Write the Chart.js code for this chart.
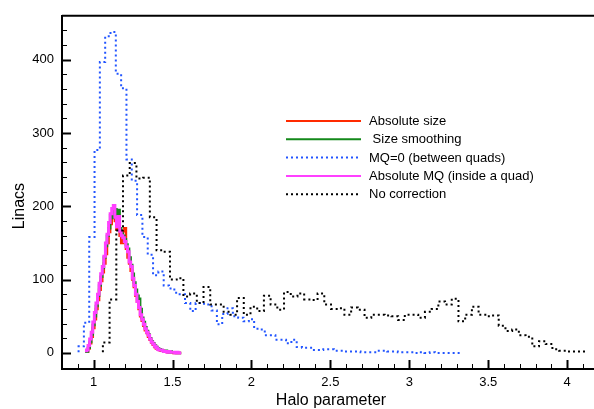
<!DOCTYPE html>
<html>
<head>
<meta charset="utf-8">
<script src="https://cdn.jsdelivr.net/npm/chart.js@4.4.0/dist/chart.umd.min.js"></script>
<style>
  html, body { margin: 0; padding: 0; background: #fff; }
</style>
</head>
<body>
<canvas id="myChart" width="594" height="409"></canvas>
<script>
// histogram definitions (bin start, bin width)
const narrowStart = 0.955, narrowWidth = 0.01;
const blueStart = 0.905, blueWidth = 0.0337;
const blackStart = 1.059, blackWidth = 0.0425;

const seriesNames = ['Absolute size', ' Size smoothing', 'MQ=0 (between quads)', 'Absolute MQ (inside a quad)', 'No correction'];

const absoluteSize = [0, 2, 6, 13, 22, 34, 46, 60, 72, 86, 98, 110, 122, 135, 150, 165, 176, 190, 194, 180,
  168, 175, 160, 150, 166, 170, 142, 130, 122, 112, 100, 90, 78, 70, 60, 50, 44, 37, 31, 27,
  22, 18, 14, 11, 8, 6, 5, 4, 3, 3, 2, 2, 1, 1, 1, 1, 0, 1, 0, 0];
const sizeSmoothing = [0, 2, 7, 15, 25, 38, 50, 64, 78, 92, 104, 116, 130, 146, 160, 170, 188, 184, 192, 196,
  178, 195, 170, 163, 160, 155, 148, 142, 130, 120, 108, 96, 86, 78, 74, 60, 48, 42, 35, 30,
  25, 20, 16, 13, 10, 8, 6, 5, 4, 3, 2, 3, 2, 1, 2, 1, 1, 1, 0, 0];
const mqZero = [1, 9, 41, 158, 277, 397, 432, 438, 381, 361, 264, 235, 188, 158, 134, 106, 111, 92, 88, 82,
  80, 68, 57, 68, 67, 66, 58, 39, 53, 61, 50, 48, 43, 46, 33, 32, 24, 24, 18, 18,
  13, 18, 8, 7, 7, 4, 4, 5, 5, 3, 3, 2, 2, 2, 1, 1, 1, 3, 3, 2,
  2, 1, 1, 1, 0, 1, 0, 1, 0, 0, 0, 0];
const absoluteMQ = [1, 4, 10, 19, 28, 42, 55, 68, 80, 95, 108, 118, 132, 150, 162, 178, 190, 197, 201, 185,
  172, 186, 166, 160, 157, 152, 145, 138, 124, 118, 102, 92, 80, 70, 62, 52, 46, 39, 33, 28,
  24, 19, 15, 12, 9, 7, 5, 4, 4, 3, 2, 2, 1, 2, 1, 1, 1, 0, 1, 0];
const noCorrection = [1, 14, 73, 167, 242, 259, 238, 239, 185, 140, 138, 100, 102, 77, 81, 68, 90, 66, 66, 56,
  52, 75, 52, 63, 57, 78, 66, 59, 83, 77, 81, 73, 72, 81, 66, 60, 61, 52, 62, 59,
  48, 52, 52, 51, 50, 45, 52, 52, 48, 56, 60, 70, 66, 74, 43, 52, 63, 52, 50, 51,
  37, 30, 32, 24, 22, 9, 16, 12, 5, 3, 2, 2];

const xTickValues = [1, 1.5, 2, 2.5, 3, 3.5, 4];
const yTickValues = [0, 100, 200, 300, 400];

// turn bin contents into step points (left edges + closing edge)
function histPoints(start, width, values) {
  const pts = values.map((v, i) => ({ x: start + i * width, y: v }));
  pts.push({ x: start + values.length * width, y: values[values.length - 1] });
  return pts;
}

function histDataset(label, start, width, values, color, dash, lw, order) {
  return {
    label: label,
    data: histPoints(start, width, values),
    borderColor: color,
    borderWidth: lw,
    borderDash: dash,
    stepped: 'after',
    pointRadius: 0,
    fill: false,
    order: order, // lower order is painted on top
  };
}

const axisDecor = {
  id: 'axisDecor',
  afterDatasetsDraw(chart) {
    const ctx = chart.ctx;
    const area = chart.chartArea;
    const xs = chart.scales.x, ys = chart.scales.y;
    ctx.save();
    ctx.strokeStyle = '#000';
    // top frame line
    ctx.lineWidth = 2;
    ctx.beginPath();
    ctx.moveTo(area.left, area.top);
    ctx.lineTo(area.right, area.top);
    ctx.stroke();
    // inward x ticks
    for (let k = 8; k <= 41; k++) {
      const v = k / 10;
      const px = Math.round(xs.getPixelForValue(v)) + 0.5;
      const major = k % 5 === 0;
      ctx.lineWidth = major ? 2 : 1;
      ctx.beginPath();
      ctx.moveTo(px, area.bottom);
      ctx.lineTo(px, area.bottom - (major ? 9 : 5));
      ctx.stroke();
    }
    // inward y ticks
    for (let v = -20; v <= 440; v += 20) {
      const py = Math.round(ys.getPixelForValue(v)) + 0.5;
      const major = v % 100 === 0;
      ctx.lineWidth = major ? 2 : 1;
      ctx.beginPath();
      ctx.moveTo(area.left, py);
      ctx.lineTo(area.left + (major ? 9 : 5), py);
      ctx.stroke();
    }
    // axis titles
    ctx.fillStyle = '#000';
    ctx.font = '16px "Liberation Sans", Arial, sans-serif';
    ctx.textAlign = 'center';
    ctx.textBaseline = 'middle';
    ctx.fillText('Halo parameter', 331, 401);
    ctx.translate(20, 206);
    ctx.rotate(-Math.PI / 2);
    ctx.fillText('Linacs', 0, 0);
    ctx.restore();

    // legend
    ctx.save();
    ctx.font = '13px "Liberation Sans", Arial, sans-serif';
    ctx.textAlign = 'left';
    ctx.textBaseline = 'middle';
    chart.data.datasets.forEach((ds, i) => {
      const y = 121 + i * 18.3;
      ctx.strokeStyle = ds.borderColor;
      ctx.lineWidth = 2;
      ctx.setLineDash(ds.borderDash || []);
      ctx.beginPath();
      ctx.moveTo(286, y);
      ctx.lineTo(361, y);
      ctx.stroke();
      ctx.setLineDash([]);
      ctx.fillStyle = '#000';
      ctx.fillText(ds.label, 369, y + 0.5);
    });
    ctx.restore();
  }
};

const ctx = document.getElementById('myChart').getContext('2d');
const myChart = new Chart(ctx, {
  type: 'line',
  data: {
    datasets: [
      histDataset(seriesNames[0], narrowStart, narrowWidth, absoluteSize, '#ff2a00', [], 2.5, 5),
      histDataset(seriesNames[1], narrowStart, narrowWidth, sizeSmoothing, '#13891a', [], 2.5, 4),
      histDataset(seriesNames[2], blueStart, blueWidth, mqZero, '#2255ff', [2, 3], 2, 3),
      histDataset(seriesNames[3], narrowStart, narrowWidth, absoluteMQ, '#ff40ff', [], 3, 2),
      histDataset(seriesNames[4], blackStart, blackWidth, noCorrection, '#000000', [2, 3], 2, 1),
    ],
  },
  options: {
    responsive: false,
    animation: false,
    layout: { padding: { top: 11, left: 0, right: 0, bottom: 0 } },
    plugins: {
      legend: { display: false },
      tooltip: { enabled: false },
    },
    scales: {
      x: {
        type: 'linear',
        min: 0.8,
        max: 4.17,
        grid: { display: false, drawTicks: false },
        border: { display: true, color: '#000', width: 2 },
        afterBuildTicks: (s) => { s.ticks = xTickValues.map((v) => ({ value: v })); },
        afterFit: (s) => { s.height = 40; },
        ticks: {
          padding: 6,
          color: '#000',
          font: { family: '"Liberation Sans", Arial, sans-serif', size: 13 },
          maxRotation: 0,
          callback: (v) => String(v),
        },
      },
      y: {
        type: 'linear',
        min: -22,
        max: 460,
        grid: { display: false, drawTicks: false },
        border: { display: true, color: '#000', width: 2 },
        afterBuildTicks: (s) => { s.ticks = yTickValues.map((v) => ({ value: v })); },
        afterFit: (s) => { s.width = 62; },
        ticks: {
          padding: 8,
          color: '#000',
          font: { family: '"Liberation Sans", Arial, sans-serif', size: 13 },
          callback: (v) => String(v),
        },
      },
    },
  },
  plugins: [axisDecor],
});
</script>
</body>
</html>
